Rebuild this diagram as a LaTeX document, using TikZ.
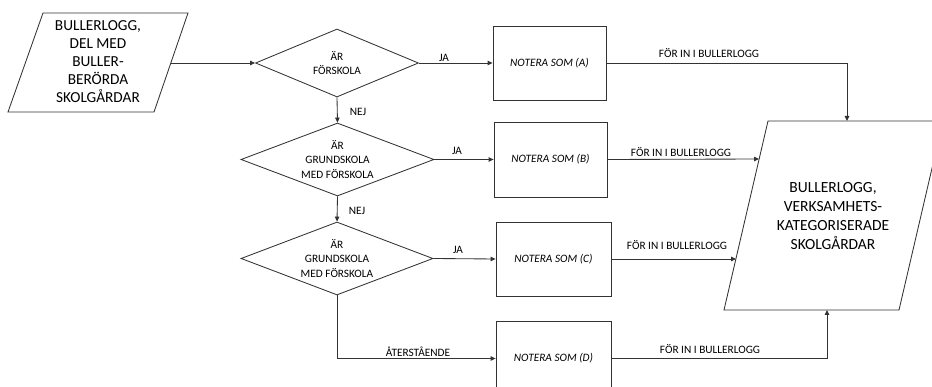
\documentclass[tikz,border=0pt]{standalone}
\usepackage{fontspec}
\setmainfont{Carlito}
\usetikzlibrary{shapes.geometric,arrows.meta}
\tikzset{
  ln/.style={draw=black!80, line width=0.85pt},
  arr/.style={ln, -{Triangle[length=5pt,width=4.5pt]}},
  dia/.style={ln, diamond, inner sep=0pt, align=center, font=\fontsize{11.3}{14.8}\selectfont},
  boxn/.style={ln, rectangle, inner sep=0pt, align=center, font=\fontsize{11.3}{14}\selectfont\itshape},
  lbl/.style={inner sep=0pt, font=\fontsize{11.3}{13}\selectfont},
  bigtxt/.style={inner sep=0pt, align=center, font=\fontsize{15.3}{18}\selectfont},
}
\begin{document}
\begin{tikzpicture}[x=1pt,y=-1pt]
\useasboundingbox (0,0) rectangle (932,387);
\clip (0,0) rectangle (932,387);
% input parallelogram
\draw[ln] (43,13) -- (188,13) -- (154,112) -- (8,112) -- cycle;
\node[bigtxt] (inT) at (98,62) {BULLERLOGG,\\DEL MED\\BULLER-\\BERÖRDA\\SKOLGÅRDAR};
\coordinate (inR) at (171,63);
% output parallelogram
\draw[ln] (768,121) -- (943,121) -- (899,310) -- (724,310) -- cycle;
\node[bigtxt, font=\fontsize{15.5}{19}\selectfont] (outT) at (833,216) {BULLERLOGG,\\VERKSAMHETS-\\KATEGORISERADE\\SKOLGÅRDAR};
\coordinate (outTopA) at (847,121);
\coordinate (outB) at (759,159);
\coordinate (outC) at (736,259);
\coordinate (outBotD) at (827,310);
% diamonds
\node[dia, aspect=2.4, minimum width=163pt, minimum height=68pt] (d1) at (337,63) {ÄR\\FÖRSKOLA};
\node[dia, aspect=2.64, minimum width=193pt, minimum height=73pt] (d2) at (337.5,159.5) {ÄR\\GRUNDSKOLA\\MED FÖRSKOLA};
\node[dia, aspect=2.64, minimum width=192pt, minimum height=73pt] (d3) at (337,258.5) {ÄR\\GRUNDSKOLA\\MED FÖRSKOLA};
% boxes
\node[boxn, minimum width=113pt, minimum height=74pt] (bA) at (549.5,63) {NOTERA SOM (A)};
\node[boxn, minimum width=113pt, minimum height=75pt] (bB) at (550.5,159.5) {NOTERA SOM (B)};
\node[boxn, minimum width=115pt, minimum height=74pt] (bC) at (553.5,259) {NOTERA SOM (C)};
\node[boxn, minimum width=115pt, minimum height=75pt] (bD) at (553.5,358.5) {NOTERA SOM (D)};
% connectors
\draw[arr] (inR) -- (d1.west);
\draw[arr] (d1.east) -- (bA.west);
\draw[arr] (d1.south) -- (d2.north);
\draw[arr] (d2.east) -- (bB.west);
\draw[arr] (d2.south) -- (d3.north);
\draw[arr] (d3.east) -- (bC.west);
\draw[arr] (d3.south) |- (bD.west);
\draw[arr] (bA.east) -| (outTopA);
\draw[arr] (bB.east) -- (outB);
\draw[arr] (bC.east) -- (outC);
\draw[arr] (bD.east) -| (outBotD);
% labels
\node[lbl] (ja1) at (444,58) {JA};
\node[lbl] (ja2) at (457,151) {JA};
\node[lbl] (ja3) at (458,250) {JA};
\node[lbl] (nej1) at (358,112) {NEJ};
\node[lbl] (nej2) at (357,211) {NEJ};
\node[lbl] (rest) at (418,352) {ÅTERSTÅENDE};
\node[lbl] (fA) at (709,53) {FÖR IN I BULLERLOGG};
\node[lbl] (fB) at (681,152) {FÖR IN I BULLERLOGG};
\node[lbl] (fC) at (677,245) {FÖR IN I BULLERLOGG};
\node[lbl] (fD) at (710,349) {FÖR IN I BULLERLOGG};
\end{tikzpicture}
\end{document}
